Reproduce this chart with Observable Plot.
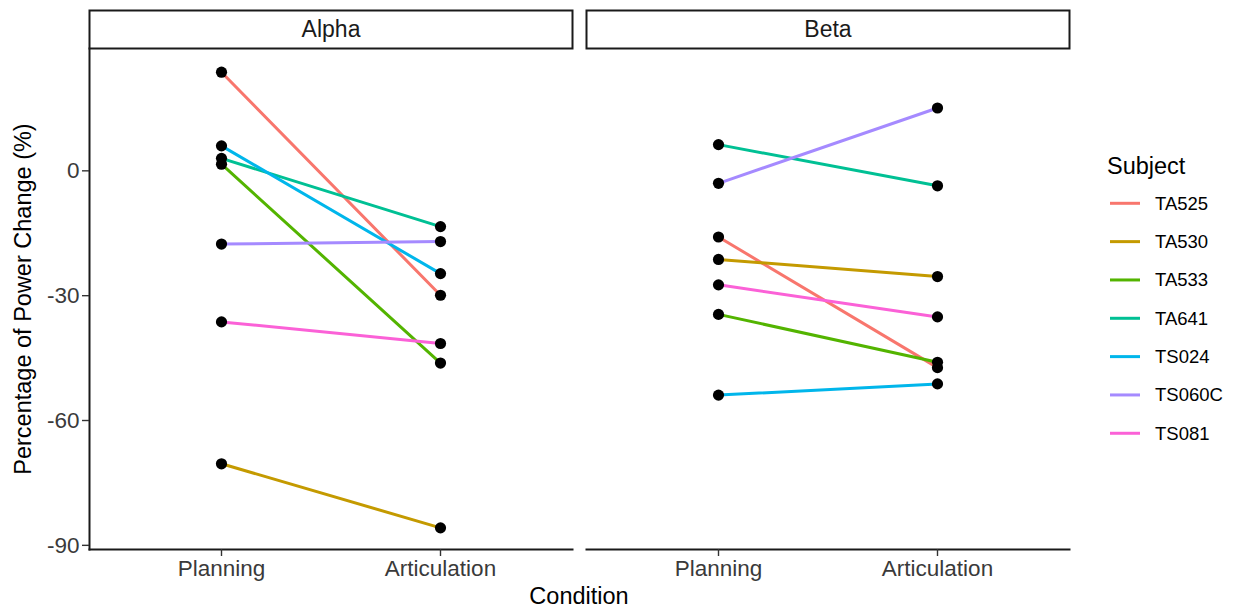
<!DOCTYPE html>
<html>
<head>
<meta charset="utf-8">
<script src="https://cdn.jsdelivr.net/npm/d3@7"></script>
<script src="https://cdn.jsdelivr.net/npm/@observablehq/plot@0.6"></script>
<style>
  html, body { margin: 0; padding: 0; background: #fff; }
  #wrap { position: relative; width: 1233px; height: 612px; font-family: "Liberation Sans", Arial, sans-serif; overflow: hidden; }
  #chart { position: absolute; left: 0; top: 0; }
  .title { position: absolute; font-size: 23.5px; color: #000; white-space: nowrap; line-height: 1; }
  #legend { position: absolute; left: 0; top: 0; }
</style>
</head>
<body>
<div id="wrap">
  <div id="chart"></div>
  <div class="title" id="xtitle">Condition</div>
  <div class="title" id="ytitle">Percentage of Power Change (%)</div>
  <svg id="legend" width="1233" height="612"></svg>
</div>
<script>
// ---- data ----
const bands = ["Alpha", "Beta"];
const conditions = ["Planning", "Articulation"];
const subjects = ["TA525", "TA530", "TA533", "TA641", "TS024", "TS060C", "TS081"];
const subjectColors = ["#F8766D", "#C49A00", "#53B400", "#00C094", "#00B6EB", "#A58AFF", "#FB61D7"];
const alphaPlanning     = [23.7, -70.4,   1.6,   3.0,   6.0, -17.6, -36.3];
const alphaArticulation = [-29.9, -85.8, -46.2, -13.4, -24.7, -17.0, -41.5];
const betaPlanning      = [-15.9, -21.3, -34.5,   6.3, -53.9,  -3.0, -27.4];
const betaArticulation  = [-47.3, -25.4, -46.0,  -3.6, -51.2,  15.1, -35.1];
const yTicks = [-90, -60, -30, 0];
const yDomain = [-91.0, 29.4];

// ---- table ----
const valuesBy = {
  Alpha: {Planning: alphaPlanning, Articulation: alphaArticulation},
  Beta: {Planning: betaPlanning, Articulation: betaArticulation}
};
const rows = [];
for (const band of bands) {
  subjects.forEach((subject, i) => {
    for (const condition of conditions) {
      rows.push({band, subject, condition, value: valuesBy[band][condition][i]});
    }
  });
}

const font = '"Liberation Sans", Arial, sans-serif';
const W = 1233, H = 612, mL = 88, mR = 163, mT = 48, mB = 63;
const frameH = H - mT - mB;

const chart = Plot.plot({
  width: W, height: H,
  marginLeft: mL, marginRight: mR, marginTop: mT, marginBottom: mB,
  style: {fontFamily: font, background: "transparent", overflow: "visible"},
  fx: {domain: bands, paddingInner: 0.0281, paddingOuter: 0, axis: null, label: null},
  x: {domain: conditions, padding: 0.6, label: null},
  y: {domain: yDomain, label: null},
  color: {domain: subjects, range: subjectColors},
  marks: [
    Plot.frame({anchor: "left", facetAnchor: "left", stroke: "#1a1a1a", strokeWidth: 2}),
    Plot.frame({anchor: "bottom", stroke: "#1a1a1a", strokeWidth: 2}),
    Plot.frame({insetTop: -(mT - 10), insetBottom: frameH, stroke: "#1a1a1a", strokeWidth: 2, fill: "white"}),
    Plot.text(bands, {fx: d => d, text: d => d, frameAnchor: "top", lineAnchor: "middle", dy: -(mT - 10) / 2, fontSize: 23, fill: "#1a1a1a"}),
    Plot.axisY({ticks: yTicks, tickFormat: d => String(d), tickSize: 7, tickPadding: 3, fontSize: 22.5, fill: "#3a3a3a", stroke: "#333", strokeWidth: 1.4, label: null}),
    Plot.axisX({tickSize: 7, tickPadding: 4, fontSize: 22.5, fill: "#3a3a3a", stroke: "#333", strokeWidth: 1.4, label: null}),
    Plot.line(rows, {fx: "band", x: "condition", y: "value", z: "subject", stroke: "subject", strokeWidth: 3}),
    Plot.dot(rows, {fx: "band", x: "condition", y: "value", r: 5.6, fill: "black", stroke: "none"})
  ]
});
document.getElementById("chart").appendChild(chart);

// ---- titles ----
const xt = document.getElementById("xtitle");
xt.style.left = ((mL + (W - mR)) / 2) + "px";
xt.style.top = "585px";
xt.style.transform = "translateX(-50%)";
const yt = document.getElementById("ytitle");
yt.style.left = "24px";
yt.style.top = ((mT + (H - mB)) / 2) + "px";
yt.style.transform = "translate(-50%, -50%) rotate(-90deg)";

// ---- legend ----
const colorScale = chart.scale("color");
const lg = d3.select("#legend");
lg.append("text").attr("x", 1107).attr("y", 174).attr("font-family", font).attr("font-size", 23.5).attr("fill", "#000").text("Subject");
const items = lg.selectAll("g.item").data(subjects).join("g").attr("transform", (d, i) => `translate(0, ${203.3 + i * 38.33})`);
items.append("line").attr("x1", 1110).attr("x2", 1140).attr("y1", 0).attr("y2", 0)
  .attr("stroke", d => colorScale.apply(d)).attr("stroke-width", 3);
items.append("text").attr("x", 1155).attr("y", 0).attr("dy", "0.35em").attr("font-family", font).attr("font-size", 18.5).attr("fill", "#000").text(d => d);
</script>
</body>
</html>
